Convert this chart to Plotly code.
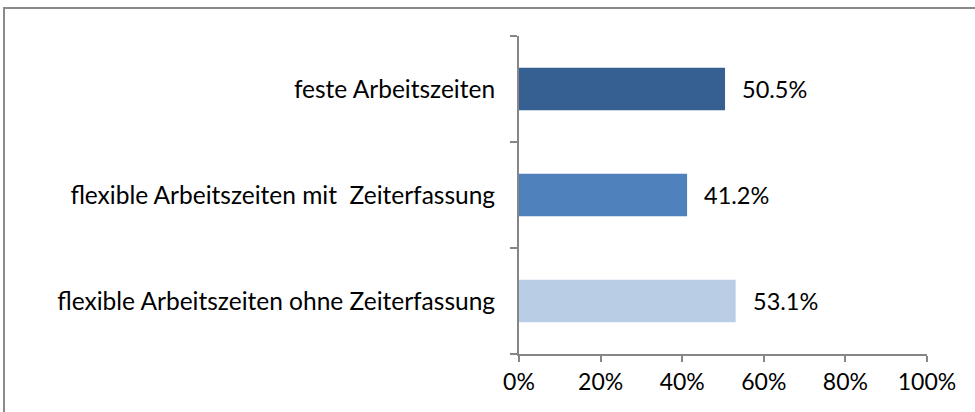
import plotly.graph_objects as go

categories = ["flexible Arbeitszeiten ohne Zeiterfassung",
              "flexible Arbeitszeiten mit  Zeiterfassung",
              "feste Arbeitszeiten"]
values = [53.1, 41.2, 50.5]
bar_colors = ["#B9CDE5", "#4F81BD", "#376092"]
x_ticks = [0, 20, 40, 60, 80, 100]
x_tick_labels = ["0%", "20%", "40%", "60%", "80%", "100%"]
value_labels = ["53.1%", "41.2%", "50.5%"]

W, H = 975, 412
L, R, T, B = 519, 48, 36, 58
pw, ph = W - L - R, H - T - B

FONT = "Lato"
fig = go.Figure()
fig.add_trace(go.Bar(
    y=categories, x=values, orientation="h",
    marker=dict(color=bar_colors, line=dict(width=0)),
    hoverinfo="skip",
))

for c, v, t in zip(categories, values, value_labels):
    fig.add_annotation(x=v, y=c, text=t, showarrow=False, xanchor="left",
                       xshift=15, font=dict(family=FONT, size=23.5, color="#000"))

# outer border
fig.add_shape(type="rect", xref="paper", yref="paper",
              x0=(4 - L) / pw, x1=1 + (R + 20) / pw,
              y0=-(B + 20) / ph, y1=1 + (T - 8) / ph,
              line=dict(color="#8A8A8A", width=2), layer="below")

fig.update_layout(
    width=W, height=H,
    margin=dict(l=L, r=R, t=T, b=B, autoexpand=False),
    paper_bgcolor="white", plot_bgcolor="white",
    bargap=0.6, showlegend=False,
    font=dict(family=FONT, size=23, color="#000"),
    xaxis=dict(range=[0, 100], tickvals=x_ticks, ticktext=x_tick_labels,
               showgrid=False, zeroline=False, showline=True,
               linecolor="#868686", linewidth=2, ticks="outside",
               ticklen=6, tickwidth=2, tickcolor="#868686",
               tickfont=dict(family=FONT, size=23, color="#000")),
    yaxis=dict(type="category", categoryorder="array", categoryarray=categories,
               range=[-0.5, 2.5], tickson="boundaries",
               showgrid=False, zeroline=False, showline=True,
               linecolor="#868686", linewidth=2, ticks="outside",
               ticklen=7, tickwidth=2, tickcolor="#868686",
               ticklabelstandoff=17,
               tickfont=dict(family=FONT, size=24.5, color="#000")),
)

fig.write_html("out.html",
               config={"displayModeBar": False},
               post_script="document.body.style.margin='0';document.body.style.overflow='hidden';")
